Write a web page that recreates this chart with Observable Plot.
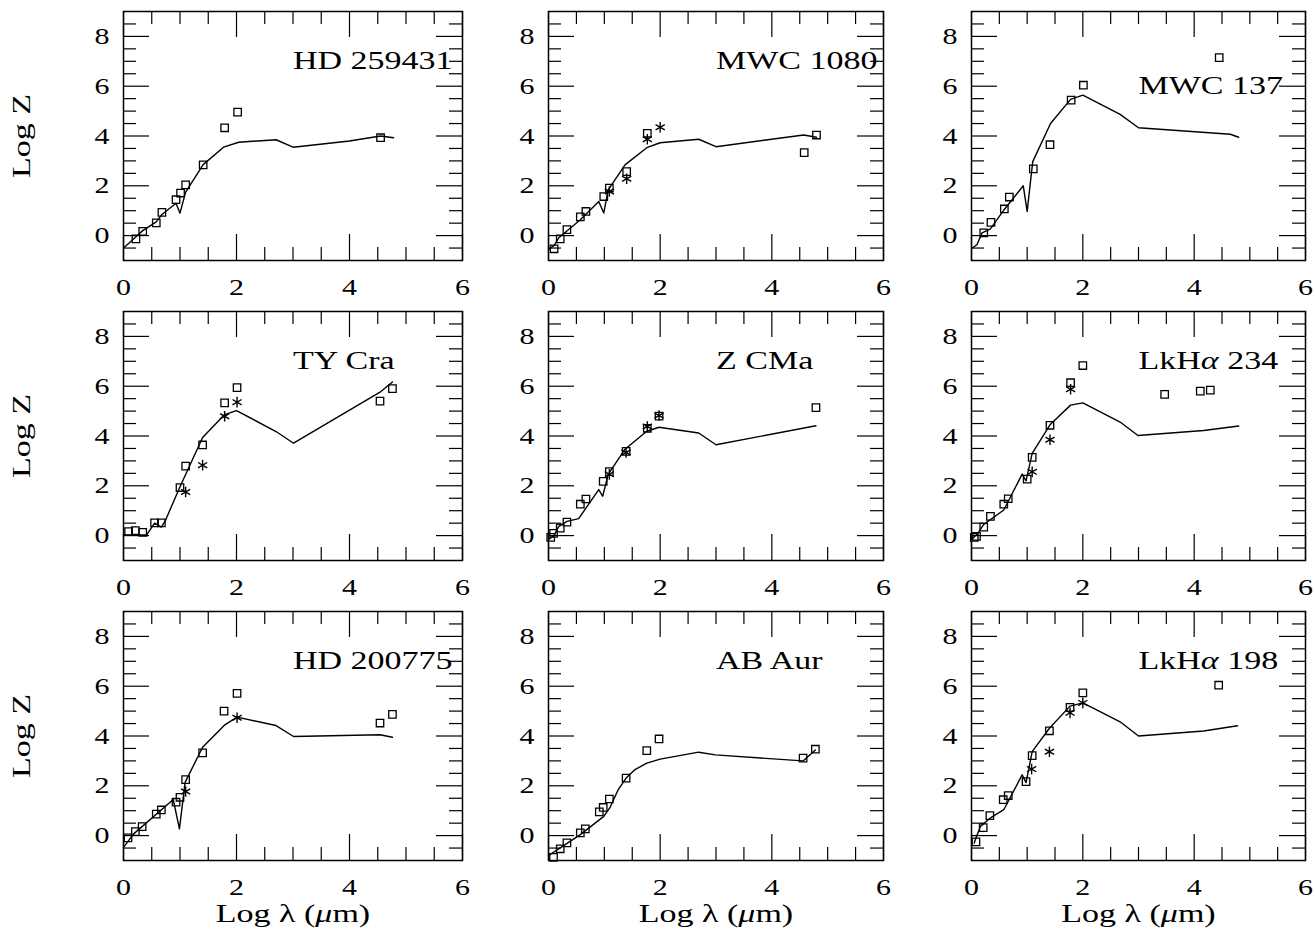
<!DOCTYPE html>
<html><head><meta charset="utf-8">
<script src="https://cdn.jsdelivr.net/npm/d3@7"></script>
<script src="https://cdn.jsdelivr.net/npm/@observablehq/plot@0.6"></script>
<style>
body{margin:0;background:#fff;}
#chart{position:relative;width:1313px;height:928px;overflow:hidden;background:#fff;}
#chart svg{position:absolute;overflow:visible;}
#chart svg text{font-family:"Liberation Serif",serif;fill:#000;}
</style></head><body><div id="chart"></div>
<script>
// ---- data ----
const names = ["HD 259431","MWC 1080","MWC 137","TY Cra","Z CMa","LkHα 234","HD 200775","AB Aur","LkHα 198"];
const xTickLabels = [0, 2, 4, 6];
const yTickLabels = [0, 2, 4, 6, 8];
const xMinorTicks = [0.5, 1, 1.5, 2.5, 3, 3.5, 4.5, 5, 5.5];
const yMinorTicks = [-0.5, 0.5, 1, 1.5, 2.5, 3, 3.5, 4.5, 5, 5.5, 6.5, 7, 7.5, 8.5];

const hd259431_squares = [[0.22,-0.13],[0.34,0.17],[0.58,0.51],[0.68,0.93],[0.93,1.44],[1.01,1.71],[1.10,2.04],[1.41,2.84],[1.79,4.33],[2.02,4.96],[4.55,3.93]];
const hd259431_stars = [];
const hd259431_model = [[0,-0.5],[0.1,-0.3],[0.22,-0.05],[0.34,0.2],[0.58,0.55],[0.68,0.85],[0.93,1.3],[1.0,0.9],[1.1,1.75],[1.41,2.85],[1.77,3.55],[2.04,3.75],[2.7,3.85],[3.0,3.55],[4.0,3.8],[4.55,4.0],[4.78,3.93]];

const mwc1080_squares = [[0.10,-0.53],[0.21,-0.13],[0.33,0.24],[0.57,0.75],[0.67,0.97],[0.99,1.57],[1.09,1.91],[1.40,2.57],[1.77,4.11],[4.58,3.33],[4.80,4.04]];
const mwc1080_stars = [[1.09,1.77],[1.40,2.28],[1.77,3.87],[2.0,4.35]];
const mwc1080_model = [[0,-0.55],[0.1,-0.4],[0.18,-0.1],[0.57,0.64],[0.9,1.37],[0.99,0.91],[1.07,1.84],[1.37,2.84],[1.76,3.53],[2.0,3.73],[2.69,3.87],[3.0,3.57],[4.57,4.04],[4.8,3.95]];

const mwc137_squares = [[0.22,0.11],[0.35,0.53],[0.59,1.07],[0.68,1.55],[1.11,2.68],[1.41,3.65],[1.79,5.44],[2.01,6.04],[4.45,7.15]];
const mwc137_stars = [];
const mwc137_model = [[0,-0.53],[0.1,-0.36],[0.19,0.11],[0.34,0.27],[0.59,1.05],[0.93,2.0],[1.0,0.97],[1.1,2.97],[1.42,4.5],[1.78,5.47],[2.0,5.64],[2.67,4.87],[3.0,4.33],[4.65,4.07],[4.8,3.95]];

const tycra_squares = [[0.09,0.16],[0.21,0.2],[0.34,0.13],[0.55,0.51],[0.67,0.51],[1.0,1.93],[1.10,2.79],[1.40,3.64],[1.79,5.33],[2.01,5.94],[4.54,5.40],[4.76,5.90]];
const tycra_stars = [[1.10,1.75],[1.40,2.83],[1.79,4.79],[2.01,5.36]];
const tycra_model = [[0,0.03],[0.41,0.03],[0.55,0.5],[0.67,0.34],[0.74,0.6],[1.0,1.96],[1.40,3.94],[1.79,4.86],[2.0,5.02],[2.70,4.18],[3.01,3.71],[4.54,5.76],[4.76,6.17]];

const zcma_squares = [[0.04,-0.07],[0.09,0.09],[0.21,0.30],[0.33,0.54],[0.57,1.26],[0.67,1.47],[0.98,2.18],[1.09,2.57],[1.39,3.38],[1.77,4.31],[1.98,4.80],[4.79,5.14]];
const zcma_stars = [[1.09,2.46],[1.39,3.34],[1.77,4.38],[1.98,4.82]];
const zcma_model = [[0,-0.15],[0.1,0.0],[0.18,0.36],[0.33,0.57],[0.54,0.68],[0.9,1.85],[0.97,1.58],[1.07,2.46],[1.37,3.47],[1.76,4.19],[1.98,4.35],[2.69,4.12],[3.0,3.65],[4.79,4.41]];

const lkha234_squares = [[0.05,-0.07],[0.09,-0.03],[0.22,0.34],[0.34,0.77],[0.58,1.26],[0.66,1.48],[1.0,2.27],[1.09,3.14],[1.41,4.43],[1.78,6.14],[2.0,6.83],[3.47,5.67],[4.11,5.80],[4.29,5.84]];
const lkha234_stars = [[1.09,2.56],[1.41,3.85],[1.78,5.88]];
const lkha234_model = [[0,-0.16],[0.1,0.05],[0.22,0.45],[0.58,1.03],[0.91,2.47],[0.98,2.2],[1.09,3.3],[1.41,4.45],[1.78,5.24],[2.0,5.33],[2.67,4.56],[2.99,4.02],[4.17,4.22],[4.8,4.4]];

const hd200775_squares = [[0.08,-0.09],[0.21,0.16],[0.33,0.36],[0.58,0.86],[0.67,1.03],[0.93,1.34],[1.0,1.54],[1.10,2.25],[1.40,3.32],[1.78,5.0],[2.01,5.71],[4.54,4.52],[4.76,4.87]];
const hd200775_stars = [[1.10,1.77],[2.01,4.73]];
const hd200775_model = [[0,-0.47],[0.09,-0.2],[0.18,0.07],[0.88,1.45],[0.99,0.27],[1.09,2.14],[1.4,3.55],[1.8,4.46],[2.01,4.76],[2.70,4.42],[3.01,3.98],[4.54,4.05],[4.76,3.95]];

const abaur_squares = [[0.09,-0.87],[0.21,-0.53],[0.33,-0.29],[0.57,0.11],[0.66,0.27],[0.91,0.95],[0.98,1.13],[1.09,1.47],[1.39,2.31],[1.76,3.41],[1.98,3.88],[4.56,3.11],[4.78,3.47]];
const abaur_stars = [];
const abaur_model = [[0,-0.8],[0.21,-0.49],[0.57,0.04],[0.99,0.77],[1.1,1.12],[1.25,1.85],[1.39,2.31],[1.55,2.65],[1.76,2.91],[2.0,3.07],[2.69,3.35],[2.99,3.24],[4.56,3.0],[4.78,3.44]];

const lkha198_squares = [[0.08,-0.25],[0.21,0.32],[0.33,0.8],[0.57,1.44],[0.66,1.61],[0.98,2.17],[1.09,3.21],[1.40,4.21],[1.77,5.15],[2.0,5.73],[4.44,6.04]];
const lkha198_stars = [[1.08,2.67],[1.40,3.37],[1.77,4.93],[2.0,5.33]];
const lkha198_model = [[0.05,-0.3],[0.07,-0.16],[0.16,0.37],[0.34,0.71],[0.58,1.04],[0.91,2.44],[0.98,2.13],[1.09,3.37],[1.40,4.31],[1.77,5.2],[2.0,5.33],[2.67,4.57],[3.0,4.0],[4.17,4.2],[4.78,4.41]];

const panels = [
  [hd259431_squares, hd259431_stars, hd259431_model],
  [mwc1080_squares, mwc1080_stars, mwc1080_model],
  [mwc137_squares, mwc137_stars, mwc137_model],
  [tycra_squares, tycra_stars, tycra_model],
  [zcma_squares, zcma_stars, zcma_model],
  [lkha234_squares, lkha234_stars, lkha234_model],
  [hd200775_squares, hd200775_stars, hd200775_model],
  [abaur_squares, abaur_stars, abaur_model],
  [lkha198_squares, lkha198_stars, lkha198_model]
];

// ---- layout ----
const colLeft = [123, 548, 971];
const colWidth = [339, 335, 334];
const rowTop = [11, 311, 611];
const frameH = 249;
const minorLen = 13, majorLen = 26;
const STRETCH_TEXT = 1.36, STRETCH_TICK = 1.25; // the original lettering is set wide

function styleText(svg) {
  svg.querySelectorAll("text").forEach(t => {
    const g = t.closest("g[aria-label]");
    const isTick = g && /tick label/.test(g.getAttribute("aria-label"));
    if (isTick) t.style.fontSize = "24px";
    const tr = t.getAttribute("transform") || "";
    t.setAttribute("transform", tr + ` scale(${isTick ? STRETCH_TICK : STRETCH_TEXT},1)`);
  });
  svg.querySelectorAll("text, tspan").forEach(el => {
    if (![...el.childNodes].every(n => n.nodeType === 3)) return;
    const s = el.textContent;
    if (!/[αμ]/.test(s)) return;
    el.textContent = "";
    for (const part of s.split(/([αμ])/)) {
      if (!part) continue;
      const ts = document.createElementNS("http://www.w3.org/2000/svg", "tspan");
      ts.textContent = part;
      if (/[αμ]/.test(part)) ts.setAttribute("font-style", "italic");
      el.appendChild(ts);
    }
  });
}

const chart = document.getElementById("chart");
const xy = {x: d => d[0], y: d => d[1]};

panels.forEach(([squares, stars, model], i) => {
  const col = i % 3, row = Math.floor(i / 3);
  const W = colWidth[col];
  const mL = col === 0 ? 125 : 80, mR = 14, mT = 10, mB = row === 2 ? 75 : 45;
  const titleDy = i === 2 ? 82 : 57;
  const svg = Plot.plot({
    width: mL + W + mR,
    height: mT + frameH + mB,
    marginLeft: mL, marginRight: mR, marginTop: mT, marginBottom: mB,
    x: {domain: [0, 6]},
    y: {domain: [-1, 9]},
    style: {fontFamily: "Liberation Serif", fontSize: "25px", background: "transparent", overflow: "visible", color: "black"},
    marks: [
      Plot.axisX(xTickLabels, {tickSize: 0, tickPadding: 17,
        label: row === 2 ? "Log λ (μm)" : null, labelAnchor: "center", labelOffset: 61, labelArrow: "none"}),
      Plot.axisY(yTickLabels, {tickSize: 0, tickPadding: 14,
        label: col === 0 ? "Log Z" : null, labelAnchor: "center", labelOffset: 111, labelArrow: "none"}),
      Plot.tickX(xMinorTicks, {insetTop: frameH - minorLen, stroke: "black", strokeWidth: 1.2}),
      Plot.tickX(xMinorTicks, {insetBottom: frameH - minorLen, stroke: "black", strokeWidth: 1.2}),
      Plot.tickX(xTickLabels, {insetTop: frameH - majorLen, stroke: "black", strokeWidth: 1.2}),
      Plot.tickX(xTickLabels, {insetBottom: frameH - majorLen, stroke: "black", strokeWidth: 1.2}),
      Plot.tickY(yMinorTicks, {insetRight: W - minorLen, stroke: "black", strokeWidth: 1.2}),
      Plot.tickY(yMinorTicks, {insetLeft: W - minorLen, stroke: "black", strokeWidth: 1.2}),
      Plot.tickY(yTickLabels, {insetRight: W - majorLen, stroke: "black", strokeWidth: 1.2}),
      Plot.tickY(yTickLabels, {insetLeft: W - majorLen, stroke: "black", strokeWidth: 1.2}),
      Plot.frame({stroke: "black", strokeWidth: 1.5}),
      Plot.line(model, {...xy, stroke: "black", strokeWidth: 1.4}),
      Plot.dot(squares, {...xy, symbol: "square", r: 4.2, stroke: "black", fill: "none", strokeWidth: 1.3}),
      Plot.dot(stars, {...xy, symbol: "asterisk", r: 5, stroke: "black", fill: "none", strokeWidth: 1.4}),
      Plot.text([names[i]], {frameAnchor: "top-left", dx: W / 2, dy: titleDy, textAnchor: "start",
        lineAnchor: "bottom", fill: "black"})
    ]
  });
  styleText(svg);
  svg.style.left = (colLeft[col] - mL) + "px";
  svg.style.top = (rowTop[row] - mT) + "px";
  chart.appendChild(svg);
});
</script>
</body></html>
